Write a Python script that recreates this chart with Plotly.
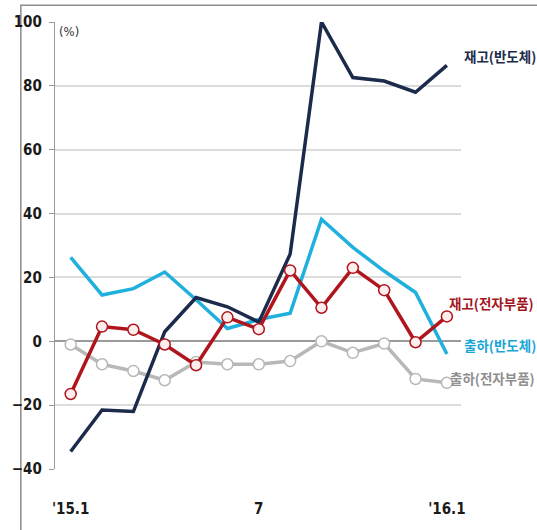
import plotly.graph_objects as go

# Months from Jan 2015 to Jan 2016
months = ["'15.1", "2", "3", "4", "5", "6", "7", "8", "9", "10", "11", "12", "'16.1"]
tick_months = ["'15.1", "7", "'16.1"]

# Year-on-year change (%)
inv_semi = [-34.5, -21.5, -22, 3, 13.7, 10.8, 6, 27.3, 100, 82.6, 81.5, 78, 86.4]     # 재고(반도체)
ship_semi = [26.3, 14.5, 16.5, 21.7, 13, 4, 6.8, 8.8, 38.2, 29.4, 22, 15.3, -4]       # 출하(반도체)
inv_elec = [-16.5, 4.6, 3.6, -1, -7.5, 7.5, 3.8, 22.2, 10.5, 23, 16, -0.3, 7.8]       # 재고(전자부품)
ship_elec = [-1, -7.2, -9.3, -12.2, -6.5, -7.2, -7.2, -6.2, 0, -3.6, -0.7, -11.8, -13] # 출하(전자부품)

NAVY = "#1c2b4b"
SKY = "#1fb0de"
RED = "#b0141d"
GRAY = "#b8b8b8"

TICK_FONT = dict(family="DejaVu Sans Condensed, Liberation Sans, sans-serif", size=15,
                 color="#1a1a1a", weight="bold")

fig = go.Figure()

fig.add_trace(go.Scatter(x=months, y=ship_elec, mode="lines+markers",
                         line=dict(color=GRAY, width=3.5),
                         marker=dict(symbol="circle", size=11, color="#ffffff",
                                     line=dict(color=GRAY, width=1.5))))
fig.add_trace(go.Scatter(x=months, y=ship_semi, mode="lines",
                         line=dict(color=SKY, width=3.5)))
fig.add_trace(go.Scatter(x=months, y=inv_semi, mode="lines",
                         line=dict(color=NAVY, width=3.5)))
fig.add_trace(go.Scatter(x=months, y=inv_elec, mode="lines+markers",
                         line=dict(color=RED, width=3.5),
                         marker=dict(symbol="circle", size=11, color="#fdeeee",
                                     line=dict(color=RED, width=1.5))))

series_labels = [
    ("재고(반도체)", "#1c2b4b", 89.3, 462),
    ("재고(전자부품)", "#a3151d", 12, 447),
    ("출하(반도체)", "#1aa6d6", -1.2, 462),
    ("출하(전자부품)", "#8f8f8f", -11.4, 448),
]
for text, color, yv, px in series_labels:
    fig.add_annotation(text=text, xref="paper", x=(px - 45) / 416, xanchor="left",
                       yref="y", y=yv, yanchor="middle", showarrow=False,
                       font=dict(family="Noto Sans CJK KR", size=13.5, color=color,
                                 weight="bold"))

fig.add_annotation(text="(%)", xref="paper", x=0.005, xanchor="left",
                   yref="paper", y=0.978, yanchor="middle", showarrow=False,
                   font=dict(family="DejaVu Sans Condensed, Liberation Sans, sans-serif",
                             size=13, color="#333333"))

# frame around the graphic
fig.add_shape(type="rect", xref="paper", yref="paper",
              x0=-35 / 416, x1=1.5, y0=-0.5, y1=1 + 17 / 454,
              line=dict(color="#8c8c8c", width=1.5), fillcolor="rgba(0,0,0,0)",
              layer="below")

fig.update_layout(
    width=537, height=530,
    margin=dict(l=45, r=76, t=22, b=54),
    paper_bgcolor="white", plot_bgcolor="white",
    showlegend=False,
    xaxis=dict(type="category", categoryorder="array", categoryarray=months,
               range=[-0.5, 12.45], tickmode="array", tickvals=tick_months,
               ticktext=tick_months, showgrid=False, showline=False, zeroline=False,
               ticks="", ticklabelstandoff=29, tickfont=TICK_FONT),
    yaxis=dict(range=[-40, 100], tickmode="array", tickvals=[-40, -20, 0, 20, 40, 60, 80, 100],
               showgrid=True, gridcolor="#dcdcdc", gridwidth=1.5,
               zeroline=True, zerolinecolor="#9a9a9a", zerolinewidth=1.5,
               showline=True, linecolor="#9a9a9a", linewidth=1.2,
               ticks="outside", ticklen=5, tickcolor="#9a9a9a", ticklabelstandoff=4,
               tickfont=TICK_FONT),
)

fig.write_html("out.html")
